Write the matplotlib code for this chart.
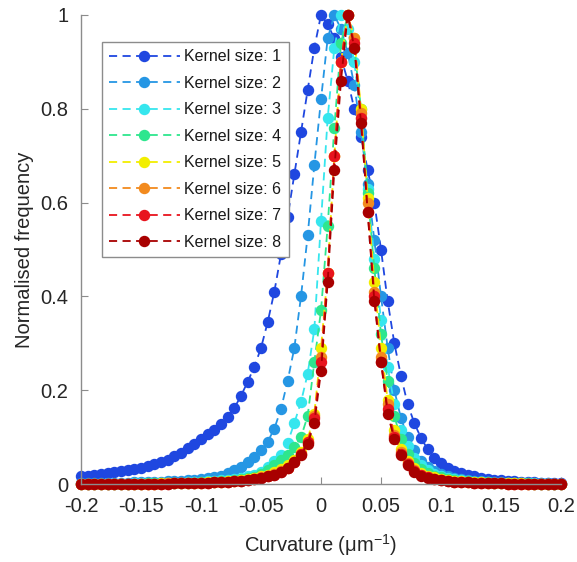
import numpy as np
import matplotlib
matplotlib.use("Agg")
import matplotlib.pyplot as plt

plt.rcParams['font.family'] = ['Liberation Sans', 'DejaVu Sans']
plt.rcParams['mathtext.fontset'] = 'custom'
plt.rcParams['mathtext.rm'] = 'Liberation Sans'
plt.rcParams['mathtext.it'] = 'Liberation Sans:italic'

# histogram bin centres (curvature, 1/um)
curvatura = np.linspace(-0.2, 0.2, 73)

# normalised frequency per kernel size
k1 = [0.017, 0.018, 0.019, 0.021, 0.023, 0.025, 0.027, 0.030, 0.032, 0.035,
      0.038, 0.042, 0.046, 0.051, 0.059, 0.067, 0.077, 0.086, 0.096,
      0.106, 0.116, 0.128, 0.142, 0.162, 0.188, 0.218, 0.250, 0.290,
      0.345, 0.410, 0.490, 0.570, 0.660, 0.750, 0.840, 0.930,
      1.000,
      0.980, 0.950, 0.910, 0.860, 0.800, 0.740, 0.670, 0.600, 0.500, 0.390,
      0.300, 0.230, 0.170, 0.130, 0.098, 0.074, 0.056, 0.044, 0.035, 0.028,
      0.023, 0.019, 0.016, 0.013, 0.011, 0.009, 0.008, 0.007, 0.006, 0.005,
      0.004, 0.004, 0.003, 0.003, 0.002, 0.002]
k2 = [0.002, 0.002, 0.002, 0.002, 0.003, 0.003, 0.003, 0.003, 0.004, 0.004,
      0.004, 0.005, 0.005, 0.006, 0.006, 0.007, 0.008, 0.009, 0.011,
      0.013, 0.015, 0.018, 0.024, 0.030, 0.037, 0.046, 0.058, 0.072,
      0.090, 0.118, 0.160, 0.220, 0.290, 0.400, 0.530, 0.680,
      0.820, 0.950, 1.000, 0.970, 0.920, 0.850, 0.750, 0.640, 0.520, 0.400,
      0.290, 0.200, 0.140, 0.100, 0.072, 0.050, 0.037, 0.028, 0.021,
      0.016, 0.013, 0.010, 0.008, 0.007, 0.006, 0.005, 0.004, 0.004,
      0.003, 0.003, 0.003, 0.002, 0.002, 0.002, 0.002, 0.001, 0.001]
k3 = [0.001, 0.001, 0.001, 0.001, 0.001, 0.001, 0.001, 0.001, 0.002, 0.002,
      0.002, 0.002, 0.002, 0.003, 0.003, 0.003, 0.004, 0.004, 0.005,
      0.006, 0.007, 0.008, 0.009, 0.011, 0.013, 0.016, 0.020, 0.025,
      0.036, 0.048, 0.062, 0.088, 0.130, 0.175, 0.235, 0.330,
      0.560, 0.780, 0.930, 1.000, 0.970, 0.900, 0.780, 0.630, 0.480, 0.350,
      0.250, 0.170, 0.115, 0.080, 0.056, 0.040, 0.029, 0.022, 0.017,
      0.013, 0.010, 0.008, 0.006, 0.005, 0.004, 0.004, 0.003, 0.003,
      0.003, 0.002, 0.002, 0.002, 0.002, 0.001, 0.001, 0.001, 0.001]
k4 = [0.001, 0.001, 0.001, 0.001, 0.001, 0.001, 0.001, 0.001, 0.001, 0.001,
      0.002, 0.002, 0.002, 0.002, 0.002, 0.003, 0.003, 0.003, 0.004,
      0.004, 0.005, 0.006, 0.007, 0.008, 0.010, 0.012, 0.015, 0.022,
      0.030, 0.040, 0.051, 0.062, 0.078, 0.100, 0.145, 0.260,
      0.370, 0.550, 0.760, 0.940, 1.000, 0.930, 0.800, 0.620, 0.460, 0.320,
      0.220, 0.145, 0.095, 0.065, 0.045, 0.032, 0.024, 0.018, 0.014,
      0.011, 0.009, 0.007, 0.006, 0.005, 0.004, 0.004, 0.003, 0.003,
      0.002, 0.002, 0.002, 0.002, 0.001, 0.001, 0.001, 0.001, 0.001]
k5 = [0.001, 0.001, 0.001, 0.001, 0.001, 0.001, 0.001, 0.001, 0.001, 0.001,
      0.001, 0.001, 0.002, 0.002, 0.002, 0.002, 0.002, 0.003, 0.003,
      0.004, 0.004, 0.005, 0.006, 0.007, 0.008, 0.010, 0.012, 0.016,
      0.020, 0.025, 0.031, 0.040, 0.052, 0.068, 0.095, 0.150,
      0.290, 0.450, 0.700, 0.900, 1.000, 0.950, 0.800, 0.610, 0.430, 0.290,
      0.180, 0.115, 0.075, 0.050, 0.034, 0.024, 0.018, 0.014, 0.011,
      0.009, 0.007, 0.006, 0.005, 0.004, 0.004, 0.003, 0.003, 0.002,
      0.002, 0.002, 0.002, 0.001, 0.001, 0.001, 0.001, 0.001, 0.001]
k6 = [0.000, 0.000, 0.001, 0.001, 0.001, 0.001, 0.001, 0.001, 0.001, 0.001,
      0.001, 0.001, 0.001, 0.002, 0.002, 0.002, 0.002, 0.003, 0.003,
      0.003, 0.004, 0.005, 0.005, 0.006, 0.007, 0.009, 0.011, 0.014,
      0.017, 0.021, 0.027, 0.035, 0.047, 0.064, 0.090, 0.145,
      0.270, 0.450, 0.700, 0.900, 1.000, 0.950, 0.790, 0.600, 0.410, 0.270,
      0.170, 0.105, 0.068, 0.044, 0.029, 0.020, 0.014, 0.011, 0.008,
      0.007, 0.005, 0.004, 0.004, 0.003, 0.003, 0.002, 0.002, 0.002,
      0.001, 0.001, 0.001, 0.001, 0.001, 0.001, 0.000, 0.000, 0.000]
k7 = [0.000, 0.000, 0.000, 0.001, 0.001, 0.001, 0.001, 0.001, 0.001, 0.001,
      0.001, 0.001, 0.001, 0.001, 0.002, 0.002, 0.002, 0.002, 0.003,
      0.003, 0.004, 0.004, 0.005, 0.006, 0.007, 0.008, 0.010, 0.013,
      0.016, 0.020, 0.026, 0.034, 0.046, 0.065, 0.090, 0.140,
      0.260, 0.450, 0.700, 0.900, 1.000, 0.940, 0.780, 0.580, 0.400, 0.260,
      0.160, 0.100, 0.065, 0.042, 0.028, 0.019, 0.014, 0.010, 0.008,
      0.006, 0.005, 0.004, 0.004, 0.003, 0.003, 0.002, 0.002, 0.002,
      0.001, 0.001, 0.001, 0.001, 0.001, 0.001, 0.000, 0.000, 0.000]
k8 = [0.000, 0.000, 0.000, 0.000, 0.001, 0.001, 0.001, 0.001, 0.001, 0.001,
      0.001, 0.001, 0.001, 0.001, 0.002, 0.002, 0.002, 0.002, 0.003,
      0.003, 0.004, 0.004, 0.005, 0.006, 0.007, 0.008, 0.010, 0.013,
      0.016, 0.020, 0.026, 0.034, 0.046, 0.062, 0.085, 0.130,
      0.240, 0.430, 0.670, 0.860, 1.000, 0.930, 0.770, 0.580, 0.390, 0.260,
      0.150, 0.095, 0.062, 0.040, 0.026, 0.018, 0.013, 0.010, 0.008,
      0.006, 0.005, 0.004, 0.004, 0.003, 0.003, 0.002, 0.002, 0.002,
      0.001, 0.001, 0.001, 0.001, 0.001, 0.001, 0.000, 0.000, 0.000]

series = [k1, k2, k3, k4, k5, k6, k7, k8]
rotulos = ['Kernel size: %d' % (i + 1) for i in range(8)]
cores = ['#1f47e0', '#2596e4', '#36e6ee', '#2ee68e',
         '#f2ee00', '#f28a1e', '#e8141e', '#a80000']

xticks = [-0.2, -0.15, -0.1, -0.05, 0, 0.05, 0.1, 0.15, 0.2]
xticklabels = ['-0.2', '-0.15', '-0.1', '-0.05', '0', '0.05', '0.1', '0.15', '0.2']
yticks = [0, 0.2, 0.4, 0.6, 0.8, 1]
yticklabels = ['0', '0.2', '0.4', '0.6', '0.8', '1']

fig = plt.figure(figsize=(5.77, 5.62), dpi=100)
ax = fig.add_axes([81 / 577, 78 / 562, 480 / 577, 469 / 562])

for y, cor, rotulo in zip(series, cores, rotulos):
    ax.plot(curvatura, y, linestyle=(0, (4.5, 3)), color=cor, linewidth=1.3,
            marker='o', markersize=7.2, markerfacecolor=cor,
            markeredgecolor=cor, label=rotulo, clip_on=False)

ax.set_xlim(-0.2, 0.2)
ax.set_ylim(0, 1)
ax.set_xticks(xticks)
ax.set_xticklabels(xticklabels)
ax.set_yticks(yticks)
ax.set_yticklabels(yticklabels)

for lado in ['top', 'right']:
    ax.spines[lado].set_visible(False)
for lado in ['left', 'bottom']:
    ax.spines[lado].set_color('#8c8c8c')
    ax.spines[lado].set_linewidth(1.0)
ax.tick_params(direction='in', length=5, width=0.8, color='#8c8c8c',
               labelsize=14.5, labelcolor='#262626')
ax.tick_params(axis='x', pad=9)
ax.tick_params(axis='y', pad=9)

ax.set_xlabel('Curvature (μm$^{-1}$)', fontsize=14.5, color='#262626', labelpad=12)
ax.set_ylabel('Normalised frequency', fontsize=14.5, color='#262626', labelpad=5)

leg = ax.legend(loc='upper left', bbox_to_anchor=(0.044, 0.942),
                borderaxespad=0, fontsize=11.5, numpoints=1,
                handlelength=4.4, handletextpad=0.3, labelspacing=0.72,
                borderpad=0.45, fancybox=False, framealpha=1)
leg.get_frame().set_edgecolor('#8c8c8c')
leg.get_frame().set_linewidth(1.0)
for t in leg.get_texts():
    t.set_color('#1a1a1a')

fig.savefig('out.png', dpi=100)
